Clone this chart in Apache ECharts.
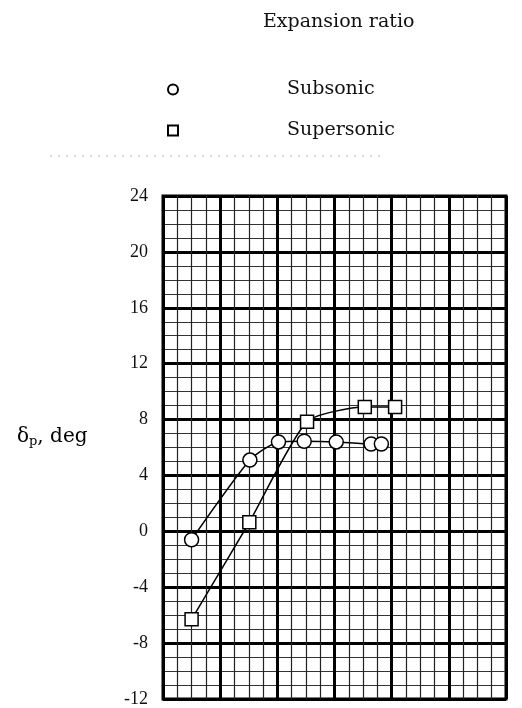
<!DOCTYPE html>
<html>
<head>
<meta charset="utf-8">
<script src="https://cdn.jsdelivr.net/npm/echarts@6/dist/echarts.min.js"></script>
<style>
  html, body { margin: 0; padding: 0; background: #fff; }
  #chart { width: 522px; height: 708px; }
</style>
</head>
<body>
<div id="chart"></div>
<script>
// Nozzle position along the test range (grid columns) and measured deflection
const subsonicX = [0.50, 1.52, 2.02, 2.47, 3.03, 3.64, 3.82];
const subsonicY = [-0.6, 5.1, 6.4, 6.45, 6.4, 6.25, 6.25];
const supersonicX = [0.50, 1.51, 2.52, 3.53, 4.06];
const supersonicY = [-6.3, 0.65, 7.85, 8.9, 8.9];
const yTicks = [-12, -8, -4, 0, 4, 8, 12, 16, 20, 24];
const seriesNames = ['Subsonic', 'Supersonic'];

const pairs = (xs, ys) => xs.map((x, i) => [x, ys[i]]);

const serif = '"Liberation Serif", "Times New Roman", serif';
const wideSerif = '"DejaVu Serif", serif';

const chart = echarts.init(document.getElementById('chart'), null, { renderer: 'canvas' });

const markerStyle = { color: '#fff', borderColor: '#000', borderWidth: 1.5 };

chart.setOption({
  animation: false,
  backgroundColor: '#fff',
  grid: {
    left: 163, right: 16, top: 196, bottom: 2,
    show: true, borderColor: '#000', borderWidth: 3, backgroundColor: 'transparent'
  },
  legend: {
    orient: 'vertical',
    left: 162, top: 75,
    itemWidth: 10, itemHeight: 10, itemGap: 22,
    data: [
      { name: seriesNames[0], icon: 'circle' },
      { name: seriesNames[1], icon: 'rect' }
    ],
    textStyle: { fontFamily: wideSerif, fontSize: 19, color: '#111', padding: [0, 0, 0, 104] }
  },
  xAxis: {
    type: 'value', min: 0, max: 6, interval: 1,
    axisLine: { show: false }, axisTick: { show: false }, axisLabel: { show: false },
    splitLine: { show: true, lineStyle: { color: '#000', width: 3 } },
    minorTick: { show: false, splitNumber: 4 },
    minorSplitLine: { show: true, lineStyle: { color: '#222', width: 1.2 } }
  },
  yAxis: {
    type: 'value', min: yTicks[0], max: yTicks[yTicks.length - 1], interval: 4,
    axisLine: { show: false }, axisTick: { show: false },
    axisLabel: {
      margin: 15, fontFamily: serif, fontSize: 18, color: '#111',
      formatter: v => (yTicks.includes(v) ? String(v) : '')
    },
    splitLine: { show: true, lineStyle: { color: '#000', width: 3 } },
    minorTick: { show: false, splitNumber: 4 },
    minorSplitLine: { show: true, lineStyle: { color: '#333', width: 1 } }
  },
  series: [
    {
      name: seriesNames[0], type: 'line',
      data: pairs(subsonicX, subsonicY),
      smooth: 0.2,
      symbol: 'circle', symbolSize: 14,
      lineStyle: { color: '#000', width: 1.5 },
      itemStyle: markerStyle, z: 3
    },
    {
      name: seriesNames[1], type: 'line',
      data: pairs(supersonicX, supersonicY),
      smooth: 0.2,
      symbol: 'rect', symbolSize: 13,
      lineStyle: { color: '#000', width: 1.5 },
      itemStyle: markerStyle, z: 3
    }
  ],
  graphic: [
    {
      type: 'text', left: 263, top: 13,
      style: { text: 'Expansion ratio', font: '19px ' + wideSerif, fill: '#111' }
    },
    {
      type: 'text', left: 17, top: 427,
      style: {
        text: '{a|δ}{s|p}{a|, deg}',
        rich: {
          a: { fontFamily: wideSerif, fontSize: 20, color: '#111' },
          s: { fontFamily: wideSerif, fontSize: 13, color: '#111', padding: [10, 0, 0, 0] }
        }
      }
    },
    {
      type: 'line', shape: { x1: 50, y1: 156, x2: 385, y2: 156 },
      style: { stroke: '#bbb', lineWidth: 1, lineDash: [2, 6] }
    }
  ]
});
</script>
</body>
</html>
